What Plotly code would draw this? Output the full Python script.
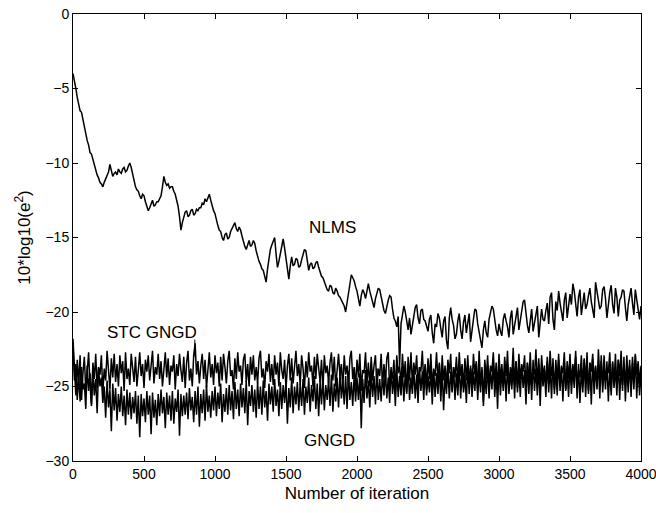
import plotly.graph_objects as go

# iteration step between the read samples
step = 10

nlms = [
    -4.0, -4.4, -5.0, -5.6, -6.0, -6.5, -6.6, -7.1, -7.6, -8.2,
    -8.5, -8.8, -9.3, -9.4, -9.8, -10.2, -10.5, -10.8, -11.0, -11.3,
    -11.4, -11.6, -11.3, -11.1, -10.9, -10.6, -10.1, -10.5, -10.9, -10.7,
    -10.6, -10.8, -10.4, -10.6, -10.7, -10.4, -10.3, -10.6, -10.5, -10.2,
    -10.0, -10.3, -10.8, -11.2, -11.6, -11.8, -11.9, -12.2, -12.4, -12.1,
    -12.2, -12.6, -12.9, -13.2, -13.0, -12.7, -12.5, -12.9, -12.8, -12.6,
    -12.6, -12.4, -12.2, -11.6, -10.9, -11.3, -11.5, -11.4, -11.7, -11.6,
    -11.6, -11.9, -12.1, -12.5, -12.9, -13.6, -14.5, -14.0, -13.6, -13.3,
    -13.2, -13.6, -13.5, -13.2, -13.1, -13.5, -13.4, -13.1, -13.2, -13.0,
    -13.0, -12.7, -12.8, -12.4, -12.6, -12.3, -12.1, -12.5, -12.9, -13.2,
    -13.4, -13.9, -14.2, -14.5, -14.6, -15.0, -15.2, -14.8, -14.7, -15.1,
    -15.0, -14.6, -14.4, -14.1, -14.0, -14.4, -14.6, -14.3, -14.5, -14.9,
    -15.3, -15.6, -15.8, -15.4, -15.2, -15.6, -15.5, -15.2, -15.4, -15.9,
    -16.3, -16.6, -16.8, -17.1, -17.2, -17.6, -18.0, -17.1, -16.3, -15.8,
    -15.5, -15.2, -15.0, -16.1, -17.0, -16.6, -16.0, -15.4, -15.1, -15.7,
    -16.4, -17.2, -17.8, -16.9, -16.3, -16.9, -16.8, -16.4, -16.5, -17.0,
    -16.9, -16.5, -16.1, -15.8, -15.9, -16.6, -17.2, -16.8, -16.7, -17.1,
    -17.0, -16.7, -16.6, -17.0, -17.3, -17.6, -17.7, -18.0, -18.2, -18.5,
    -18.6, -18.2, -18.3, -18.7, -18.8, -18.4, -18.6, -18.9, -19.0, -19.2,
    -19.3, -19.6, -20.0, -19.4, -18.8, -18.0, -17.5, -17.7, -17.9, -18.3,
    -18.6, -19.1, -19.6, -18.9, -18.5, -18.7, -19.1, -18.6, -18.1, -18.6,
    -19.0, -19.5, -19.7, -19.1, -18.8, -18.4, -18.5, -19.0, -19.5, -19.9,
    -20.1, -19.6, -19.2, -18.9, -19.0, -19.8, -20.4, -20.6, -21.0, -20.3,
    -23.6, -20.8, -20.2, -19.6, -20.0, -20.7, -21.2, -20.4, -21.5, -20.9,
    -20.3, -19.7, -19.5, -20.4, -20.8, -19.9, -19.8, -20.5, -20.6, -21.0,
    -21.3, -20.5, -20.2, -21.4, -22.1, -20.8, -21.0, -20.1, -20.4, -21.1,
    -21.7, -20.6, -20.3, -21.9, -22.5, -20.4, -19.7, -20.5, -20.9, -21.8,
    -21.5, -20.6, -20.1, -21.2, -21.8, -20.7, -20.2, -21.4, -20.8, -20.1,
    -22.0, -21.1, -20.5, -19.8, -19.9, -20.8, -21.3, -22.0, -22.4, -21.2,
    -20.6, -21.4, -21.7, -20.5, -20.0, -19.6, -19.8, -20.7, -21.2, -21.6,
    -20.8, -21.3, -21.6, -20.5, -20.1, -20.6, -21.0, -21.7, -20.4, -19.9,
    -21.5, -20.9, -20.3, -19.7, -21.2, -20.6, -19.9, -19.3, -19.2, -20.1,
    -20.9, -21.4, -20.4, -19.8, -21.3, -20.7, -20.0, -19.6, -21.7, -20.9,
    -19.8, -20.5, -20.6, -19.9, -19.4, -20.8, -19.0, -18.7, -20.5, -21.2,
    -19.3, -19.9, -18.6, -19.4, -20.1, -20.6, -19.2, -18.7, -20.4, -19.6,
    -18.8, -19.5, -18.1, -18.6, -19.7, -20.3, -19.0, -18.5, -20.2, -19.4,
    -18.7, -19.8, -19.5, -18.9, -18.4, -19.3, -19.9, -20.4, -18.0, -18.6,
    -18.9, -19.8, -19.6, -18.5, -18.3, -19.1, -20.4, -19.5, -18.7, -18.2,
    -19.5, -20.1, -18.4, -19.0, -20.3, -19.2, -19.0, -18.5, -18.6, -19.7,
    -20.6, -19.5, -18.9, -18.4, -19.4, -20.2, -18.5, -19.1, -20.0, -20.5,
    -19.6,
]

stc_gngd = [
    -21.8, -23.9, -25.6, -23.2, -24.8, -22.9, -25.9, -24.1, -23.0, -25.3,
    -23.6, -22.7, -24.9, -26.3, -23.4, -24.5, -22.8, -25.1, -23.7, -24.2,
    -22.9, -25.4, -23.8, -24.6, -22.6, -23.9, -25.2, -23.1, -24.4, -22.8,
    -24.7, -23.5, -25.0, -22.9, -24.1, -23.3, -25.3, -22.7, -24.5, -23.8,
    -24.9, -22.8, -23.6, -24.7, -23.0, -25.0, -23.9, -22.7, -24.3, -23.5,
    -25.1, -23.2, -24.0, -22.9, -24.6, -23.4, -22.6, -24.8, -23.7, -24.2,
    -22.8, -24.5, -23.3, -25.0, -23.8, -22.7, -24.4, -23.1, -24.9, -23.6,
    -24.0, -22.9, -25.2, -23.5, -24.3, -22.8, -23.9, -24.7, -23.0, -25.1,
    -23.4, -22.6, -24.6, -23.8, -25.0, -22.9, -22.1, -24.2, -23.3, -24.8,
    -23.6, -22.8, -24.5, -23.2, -25.1, -23.9, -22.7, -24.4, -23.5, -24.9,
    -22.9, -24.1, -23.4, -25.0, -23.0, -24.6, -22.8, -23.7, -24.8, -23.3,
    -22.6, -24.3, -23.9, -25.2, -23.1, -24.5, -22.7, -24.0, -23.6, -24.9,
    -23.2, -22.8, -24.7, -23.5, -25.0, -23.0, -24.2, -22.9, -24.6, -23.7,
    -24.8, -23.1, -22.6, -24.4, -23.8, -25.1, -23.3, -24.0, -22.8, -24.7,
    -23.5, -24.9, -22.9, -24.2, -23.4, -25.0, -22.7, -23.9, -24.5, -23.2,
    -25.2, -23.6, -22.8, -24.6, -23.1, -24.8, -23.7, -22.6, -24.3, -23.5,
    -24.9, -22.9, -23.8, -25.1, -23.3, -24.4, -22.7, -24.0, -23.6, -25.0,
    -23.0, -24.5, -22.8, -23.9, -24.7, -23.2, -25.2, -22.9, -24.1, -23.6,
    -24.8, -23.4, -22.7, -24.6, -23.0, -25.0, -23.8, -22.8, -24.3, -23.5,
    -25.1, -22.9, -24.2, -23.6, -24.9, -23.1, -22.6, -24.5, -23.7, -25.0,
    -23.2, -24.4, -22.8, -25.3, -23.9, -24.1, -22.7, -24.8, -23.4, -25.0,
    -23.0, -24.6, -23.6, -22.9, -25.1, -23.8, -24.3, -22.8, -24.9, -23.5,
    -24.7, -23.1, -22.7, -25.2, -23.9, -24.5, -23.2, -25.4, -22.9, -24.1,
    -23.6, -25.0, -22.8, -24.4, -23.3, -25.5, -23.0, -24.6, -22.7, -24.9,
    -23.4, -24.2, -22.9, -25.1, -23.7, -24.0, -22.6, -24.8, -23.5, -25.2,
    -23.1, -24.5, -22.8, -25.0, -23.9, -24.3, -22.7, -24.7, -23.4, -25.3,
    -22.9, -24.6, -23.6, -25.0, -23.2, -24.1, -22.8, -25.4, -23.7, -24.4,
    -23.0, -24.9, -22.7, -24.3, -23.5, -25.1, -23.1, -24.6, -22.9, -24.8,
    -23.6, -25.0, -22.8, -24.2, -23.3, -25.3, -22.6, -24.7, -23.9, -26.0,
    -23.2, -24.5, -22.9, -25.1, -23.6, -24.0, -22.7, -24.8, -23.4, -25.2,
    -22.8, -24.6, -23.5, -25.0, -23.0, -24.3, -22.6, -25.3, -23.7, -24.4,
    -22.4, -24.9, -23.3, -25.1, -22.8, -24.5, -23.6, -24.0, -22.9, -25.2,
    -23.4, -24.7, -22.7, -25.0, -23.8, -24.2, -22.5, -24.9, -23.1, -25.4,
    -22.9, -24.4, -23.6, -25.1, -23.0, -24.8, -22.6, -24.3, -23.5, -25.2,
    -23.2, -24.6, -22.8, -25.0, -23.7, -24.1, -22.7, -25.3, -23.3, -24.5,
    -22.8, -24.9, -23.5, -24.2, -22.6, -25.1, -23.9, -24.4, -22.9, -25.0,
    -23.1, -24.7, -22.7, -25.5, -23.4, -24.0, -22.8, -24.8, -23.6, -25.2,
    -22.5, -24.5, -23.3, -25.0, -22.9, -24.6, -23.7, -24.1, -22.7, -25.3,
    -23.4, -24.8, -22.8, -25.1, -23.2, -24.3, -22.6, -24.9, -23.5, -25.0,
    -22.9, -24.4, -23.6, -25.2, -23.0, -24.7, -22.8, -24.2, -23.3, -24.9,
    -23.6,
]

gngd = [
    -22.3, -24.6, -23.5, -25.9, -24.2, -26.0, -23.7, -25.2, -24.8, -26.5,
    -23.6, -25.3, -24.1, -26.2, -23.9, -25.6, -24.5, -26.8, -23.8, -25.0,
    -24.4, -26.1, -25.0, -27.1, -24.6, -26.4, -25.2, -28.0, -24.8, -26.6,
    -25.1, -27.3, -25.5, -26.7, -25.0, -27.0, -25.6, -27.6, -25.2, -26.9,
    -25.4, -27.2, -25.7, -26.8, -25.3, -27.5, -25.6, -28.4, -25.5, -27.0,
    -25.8, -27.4, -25.3, -26.9, -25.6, -28.2, -25.4, -27.1, -25.9, -27.6,
    -25.5, -27.0, -25.2, -26.8, -25.7, -27.8, -25.4, -26.9, -25.6, -27.3,
    -25.3, -27.5, -25.8, -26.7, -25.2, -28.3, -25.5, -27.0, -25.6, -26.9,
    -25.4, -27.2, -25.1, -26.6, -25.7, -27.4, -25.3, -26.9, -25.0, -27.7,
    -25.5, -26.8, -25.2, -27.3, -24.9, -26.7, -25.6, -27.1, -25.3, -26.6,
    -25.0, -27.0, -25.4, -26.5, -24.8, -27.4, -25.5, -26.7, -25.1, -26.9,
    -24.9, -26.6, -25.3, -27.2, -24.7, -26.5, -25.2, -27.0, -24.8, -26.4,
    -25.1, -26.8, -24.6, -27.6, -25.3, -26.3, -24.9, -26.7, -25.2, -27.1,
    -24.7, -26.5, -25.0, -26.9, -24.6, -26.4, -25.3, -27.3, -24.8, -26.2,
    -25.0, -26.7, -24.5, -26.3, -25.2, -27.0, -24.7, -26.5, -24.9, -26.1,
    -24.6, -27.5, -25.1, -26.4, -24.4, -26.8, -25.0, -26.2, -24.7, -26.6,
    -24.8, -26.3, -24.5, -26.9, -25.0, -26.1, -24.4, -26.7, -24.9, -26.0,
    -24.3, -26.5, -24.8, -27.0, -24.6, -26.2, -24.4, -26.6, -24.9, -25.9,
    -24.5, -26.3, -24.2, -26.7, -24.8, -26.0, -24.4, -26.4, -24.1, -25.8,
    -24.6, -26.2, -24.3, -26.5, -24.0, -25.9, -24.7, -26.3, -24.2, -26.0,
    -24.4, -25.9, -24.1, -27.8, -24.5, -26.1, -23.9, -25.8, -24.6, -26.4,
    -24.0, -25.7, -24.3, -26.2, -23.8, -25.9, -24.5, -26.0, -24.1, -25.6,
    -23.9, -25.8, -24.4, -26.1, -23.7, -25.5, -24.2, -26.3, -23.8, -25.7,
    -24.3, -25.6, -23.9, -26.0, -24.1, -25.4, -23.6, -25.9, -24.4, -25.5,
    -23.8, -25.8, -24.2, -26.1, -23.7, -25.3, -24.0, -25.9, -23.6, -25.6,
    -24.3, -25.4, -23.9, -26.2, -23.8, -25.7, -24.1, -25.5, -23.5, -26.0,
    -23.9, -26.6, -24.2, -25.5, -23.6, -25.8, -24.0, -25.3, -23.7, -25.9,
    -24.1, -25.6, -23.5, -25.8, -23.9, -25.4, -24.2, -26.1, -23.6, -25.5,
    -23.8, -25.7, -24.0, -25.3, -23.5, -25.9, -23.9, -25.4, -23.7, -26.3,
    -24.1, -25.5, -23.6, -25.8, -23.8, -25.2, -23.4, -25.7, -24.0, -26.5,
    -23.5, -25.6, -23.9, -25.3, -23.7, -26.0, -23.4, -25.5, -24.0, -25.2,
    -23.6, -25.8, -23.3, -25.4, -23.8, -25.7, -23.5, -25.1, -23.9, -26.2,
    -23.4, -25.5, -23.7, -25.9, -23.2, -25.3, -23.8, -25.6, -23.5, -26.3,
    -23.6, -25.0, -23.9, -25.7, -23.3, -25.4, -23.7, -25.8, -23.1, -25.5,
    -23.8, -25.6, -23.2, -25.3, -23.6, -26.0, -23.4, -25.2, -23.9, -25.7,
    -23.3, -25.5, -23.7, -25.1, -23.0, -25.8, -23.5, -26.1, -23.8, -25.4,
    -23.2, -25.7, -23.6, -25.3, -23.4, -26.2, -23.1, -25.5, -23.7, -25.0,
    -23.5, -25.8, -22.9, -25.4, -23.6, -25.2, -23.3, -26.0, -23.8, -25.6,
    -23.3, -25.1, -23.7, -25.6, -23.2, -25.9, -23.5, -25.3, -23.0, -26.0,
    -23.6, -25.4, -23.2, -25.7, -23.4, -25.2, -22.9, -25.8, -23.5, -25.6,
    -24.0,
]

x_ticks = [0, 500, 1000, 1500, 2000, 2500, 3000, 3500, 4000]
y_ticks = [-30, -25, -20, -15, -10, -5, 0]

labels = ["NLMS", "STC GNGD", "GNGD"]
label_x = [1830, 555, 1805]
label_y = [-14.3, -21.4, -28.6]
pointer_x = 858
pointer_y = [-21.85, -23.0]

FONT = "Liberation Sans, Arial, Helvetica, sans-serif"

fig = go.Figure()
for name, ys in [("NLMS", nlms), ("STC GNGD", stc_gngd), ("GNGD", gngd)]:
    xs = [i * step for i in range(len(ys))]
    fig.add_trace(go.Scatter(x=xs, y=ys, mode="lines", name=name,
                             line=dict(color="black", width=1.5), showlegend=False))

for t, lx, ly in zip(labels, label_x, label_y):
    fig.add_annotation(x=lx, y=ly, text=t, showarrow=False,
                       font=dict(family=FONT, size=17, color="black"))

fig.add_shape(type="line", x0=pointer_x, x1=pointer_x, y0=pointer_y[0], y1=pointer_y[1],
              line=dict(color="black", width=1))

axis_common = dict(showline=True, linecolor="black", linewidth=1, mirror="ticks",
                   ticks="inside", ticklen=5, tickcolor="black", showgrid=False,
                   zeroline=False, automargin=False, ticklabeloverflow="allow",
                   tickfont=dict(family=FONT, size=14, color="black"))

fig.update_xaxes(range=[0, 4000], tickvals=x_ticks,
                 title=dict(text="Number of iteration",
                            font=dict(family=FONT, size=17, color="black"), standoff=6),
                 **axis_common)
fig.update_yaxes(range=[-30, 0], tickvals=y_ticks,
                 title=dict(text="10*log10(e<sup>2</sup>)",
                            font=dict(family=FONT, size=17, color="black"), standoff=10),
                 **axis_common)

fig.update_layout(width=656, height=513, margin=dict(l=73, r=15, t=14, b=52),
                  plot_bgcolor="white", paper_bgcolor="white")

# remove the default page margin so the figure fills the window exactly
fig.write_html("out.html", config={"displayModeBar": False},
               post_script="document.body.style.margin='0';document.body.style.overflow='hidden';")
